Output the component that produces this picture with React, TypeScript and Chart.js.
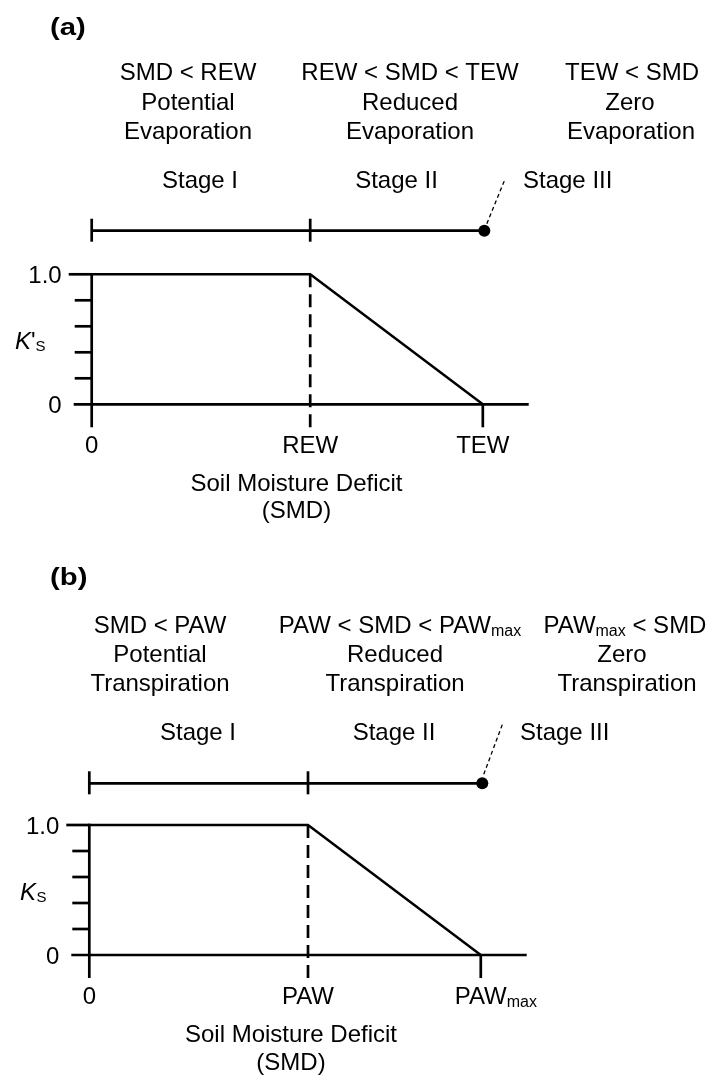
import React, { useEffect, useRef } from "react";
import { Chart, registerables } from "chart.js";

Chart.register(...registerables);

// ---------------- data ----------------
// SMD positions in relative units: 0, REW (or PAW), TEW (or PAWmax)
const SMD_A = [0, 1, 1.79];
const KS_A = [1, 1, 0];
const SMD_B = [0, 1, 1.79];
const KS_B = [1, 1, 0];
const X_MAX = 2;

const Y_TICKS = [0, 0.2, 0.4, 0.6, 0.8, 1];
const Y_TICK_LABELS = ["0", "", "", "", "", "1.0"];

const X_LABELS_A = ["0", "REW", "TEW"];
const X_LABELS_B = ["0", "PAW", "PAW_{max}"];

const HEAD_A = [
  ["SMD < REW", "Potential", "Evaporation"],
  ["REW < SMD < TEW", "Reduced", "Evaporation"],
  ["TEW < SMD", "Zero", "Evaporation"],
];
const HEAD_B = [
  ["SMD < PAW", "Potential", "Transpiration"],
  ["PAW < SMD < PAW_{max}", "Reduced", "Transpiration"],
  ["PAW_{max} < SMD", "Zero", "Transpiration"],
];
const STAGES = ["Stage I", "Stage II", "Stage III"];
const X_TITLE = ["Soil Moisture Deficit", "(SMD)"];

// ---------------- layout ----------------
const FONT = '"Liberation Sans", Arial, Helvetica, sans-serif';
const W = 713;

type Layout = {
  top: number;
  height: number;
  pad: { left: number; right: number; top: number; bottom: number };
  tag: string;
  tagX: number;
  tagY: number;
  headX: number[][];
  headY: number[];
  stageX: number[];
  stageY: number;
  timelineY: number;
  leader: [number, number, number, number];
  kPrime: boolean;
  kX: number;
  kY: number;
  titleX: number;
  titleY: number[];
  tickLabelY: number;
};

const LAYOUT_A: Layout = {
  top: 0,
  height: 551,
  pad: { left: 91.7, right: W - 528.7, top: 274.3, bottom: 551 - 404.3 },
  tag: "(a)",
  tagX: 50,
  tagY: 35,
  headX: [
    [188, 188, 188],
    [410, 410, 410],
    [632, 630, 631],
  ],
  headY: [80, 109.5, 139],
  stageX: [200, 396.5, 523],
  stageY: 188.3,
  timelineY: 230.7,
  leader: [4, -7, 22, -51],
  kPrime: true,
  kX: 15,
  kY: 348.5,
  titleX: 296.5,
  titleY: [491, 518],
  tickLabelY: 453,
};

const LAYOUT_B: Layout = {
  top: 551,
  height: 527,
  pad: { left: 89.3, right: W - 526.7, top: 274, bottom: 527 - 404 },
  tag: "(b)",
  tagX: 50,
  tagY: 34,
  headX: [
    [160, 160, 160],
    [400, 395, 395],
    [625, 622, 627],
  ],
  headY: [81.5, 110.5, 139.5],
  stageX: [198, 394, 520],
  stageY: 189,
  timelineY: 232.3,
  leader: [3, -9, 22, -60],
  kPrime: false,
  kX: 20,
  kY: 348.5,
  titleX: 291,
  titleY: [491, 519],
  tickLabelY: 453,
};

// ---------------- text helpers ----------------
type Seg = { t: string; sub: boolean };
function parseRich(s: string): Seg[] {
  const segs: Seg[] = [];
  const re = /_\{([^}]*)\}/g;
  let last = 0;
  let m: RegExpExecArray | null;
  while ((m = re.exec(s))) {
    if (m.index > last) segs.push({ t: s.slice(last, m.index), sub: false });
    segs.push({ t: m[1], sub: true });
    last = re.lastIndex;
  }
  if (last < s.length) segs.push({ t: s.slice(last), sub: false });
  return segs;
}

function drawRich(
  ctx: CanvasRenderingContext2D,
  s: string,
  x: number,
  y: number,
  align: "left" | "center" | "right" | "centerFirst",
  size = 24,
  subSize = 16,
  subDy = 3
) {
  const segs = parseRich(s);
  const fonts = segs.map((g) => `${g.sub ? subSize : size}px ${FONT}`);
  let total = 0;
  const ws = segs.map((g, i) => {
    ctx.font = fonts[i];
    const w = ctx.measureText(g.t).width;
    total += w;
    return w;
  });
  let cx = x;
  if (align === "center") cx = x - total / 2;
  else if (align === "right") cx = x - total;
  else if (align === "centerFirst") cx = x - ws[0] / 2;
  ctx.textAlign = "left";
  ctx.textBaseline = "alphabetic";
  ctx.fillStyle = "#000";
  segs.forEach((g, i) => {
    ctx.font = fonts[i];
    ctx.fillText(g.t, cx, y + (g.sub ? subDy : 0));
    cx += ws[i];
  });
}

function makePlugin(L: Layout, smd: number[], xLabels: string[], heads: string[][]) {
  return {
    id: "panelDecor",
    beforeDatasetsDraw(chart: any) {
      const ctx: CanvasRenderingContext2D = chart.ctx;
      const xs = chart.scales.x;
      const ys = chart.scales.y;
      const ax = xs.getPixelForValue(0);
      const y0 = ys.getPixelForValue(0);
      const y1 = ys.getPixelForValue(1);
      const axBottom = y0 + 23;
      const xRight = xs.getPixelForValue(X_MAX);
      ctx.save();
      ctx.strokeStyle = "#000";
      ctx.lineWidth = 2.7;
      ctx.lineCap = "butt";
      // y axis
      ctx.beginPath();
      ctx.moveTo(ax, y1 - 1.3);
      ctx.lineTo(ax, axBottom);
      ctx.stroke();
      // y ticks
      Y_TICKS.forEach((v) => {
        const py = ys.getPixelForValue(v);
        let left = ax - 17;
        if (v === 1) left = ax - 23;
        if (v === 0) left = ax - 18;
        ctx.beginPath();
        ctx.moveTo(left, py);
        ctx.lineTo(v === 0 ? xRight : ax, py);
        ctx.stroke();
      });
      // x tick below axis (TEW / PAWmax)
      const xEnd = xs.getPixelForValue(smd[2]);
      ctx.beginPath();
      ctx.moveTo(xEnd, y0);
      ctx.lineTo(xEnd, axBottom);
      ctx.stroke();
      // dashed vertical at REW / PAW
      const xMid = xs.getPixelForValue(smd[1]);
      ctx.setLineDash([13, 7]);
      ctx.beginPath();
      ctx.moveTo(xMid, y1);
      ctx.lineTo(xMid, axBottom);
      ctx.stroke();
      ctx.setLineDash([]);

      // stage timeline
      const tl = L.timelineY;
      ctx.beginPath();
      ctx.moveTo(ax, tl);
      ctx.lineTo(xEnd, tl);
      ctx.stroke();
      [ax, xMid].forEach((px) => {
        ctx.beginPath();
        ctx.moveTo(px, tl - 12);
        ctx.lineTo(px, tl + 11);
        ctx.stroke();
      });
      ctx.fillStyle = "#000";
      ctx.beginPath();
      ctx.arc(xEnd + 1.5, tl, 6, 0, Math.PI * 2);
      ctx.fill();
      // leader to Stage III
      ctx.lineWidth = 1.3;
      ctx.setLineDash([4, 3]);
      ctx.beginPath();
      ctx.moveTo(xEnd + L.leader[0], tl + L.leader[1]);
      ctx.lineTo(xEnd + L.leader[2], tl + L.leader[3]);
      ctx.stroke();
      ctx.setLineDash([]);

      // ---- texts ----
      // panel tag (wide bold)
      ctx.save();
      ctx.translate(L.tagX, L.tagY);
      ctx.scale(1.22, 1);
      ctx.font = `bold 24px ${FONT}`;
      ctx.textAlign = "left";
      ctx.textBaseline = "alphabetic";
      ctx.fillText(L.tag, 0, 0);
      ctx.restore();
      // headers
      heads.forEach((col, ci) =>
        col.forEach((line, li) => drawRich(ctx, line, L.headX[ci][li], L.headY[li], "center"))
      );
      // stages
      STAGES.forEach((s, i) =>
        drawRich(ctx, s, L.stageX[i], L.stageY, i === 2 ? "left" : "center")
      );
      // y tick labels
      Y_TICKS.forEach((v, i) => {
        if (!Y_TICK_LABELS[i]) return;
        drawRich(ctx, Y_TICK_LABELS[i], ax - 30, ys.getPixelForValue(v) + 8.6, "right");
      });
      // y axis title K'S / KS
      ctx.fillStyle = "#000";
      ctx.font = `italic 24px ${FONT}`;
      ctx.fillText("K", L.kX, L.kY);
      let kx = L.kX + ctx.measureText("K").width;
      if (L.kPrime) {
        ctx.font = `24px ${FONT}`;
        ctx.fillText("'", kx, L.kY);
        kx += ctx.measureText("'").width;
      } else {
        kx += 0.5;
      }
      ctx.font = `15px ${FONT}`;
      ctx.fillText("S", kx, L.kY + 2);
      // x tick labels
      smd.forEach((v, i) =>
        drawRich(ctx, xLabels[i], xs.getPixelForValue(v), L.tickLabelY, "centerFirst")
      );
      // x title
      X_TITLE.forEach((t, i) => drawRich(ctx, t, L.titleX, L.titleY[i], "center"));
      ctx.restore();
    },
  };
}

function Panel({
  layout,
  smd,
  ks,
  xLabels,
  heads,
}: {
  layout: Layout;
  smd: number[];
  ks: number[];
  xLabels: string[];
  heads: string[][];
}) {
  const ref = useRef<HTMLCanvasElement | null>(null);
  useEffect(() => {
    if (!ref.current) return;
    const chart = new Chart(ref.current, {
      type: "line",
      data: {
        datasets: [
          {
            data: smd.map((x, i) => ({ x, y: ks[i] })),
            borderColor: "#000",
            borderWidth: 2.5,
            pointRadius: 0,
            tension: 0,
            fill: false,
            clip: false as any,
          },
        ],
      },
      options: {
        animation: false,
        responsive: false,
        maintainAspectRatio: false,
        devicePixelRatio: 1,
        events: [],
        layout: { padding: layout.pad },
        plugins: { legend: { display: false }, tooltip: { enabled: false }, title: { display: false } },
        scales: {
          x: { type: "linear", min: 0, max: X_MAX, display: false },
          y: { type: "linear", min: 0, max: 1, display: false },
        },
      } as any,
      plugins: [makePlugin(layout, smd, xLabels, heads)],
    });
    return () => chart.destroy();
  }, []);
  return (
    <div style={{ position: "absolute", left: 0, top: layout.top, width: W, height: layout.height }}>
      <canvas
        ref={ref}
        width={W}
        height={layout.height}
        style={{ display: "block", width: W, height: layout.height }}
      />
    </div>
  );
}

export default function App() {
  return (
    <div style={{ position: "absolute", left: 0, top: 0, width: W, height: 1078, background: "#fff" }}>
      <Panel layout={LAYOUT_A} smd={SMD_A} ks={KS_A} xLabels={X_LABELS_A} heads={HEAD_A} />
      <Panel layout={LAYOUT_B} smd={SMD_B} ks={KS_B} xLabels={X_LABELS_B} heads={HEAD_B} />
    </div>
  );
}
